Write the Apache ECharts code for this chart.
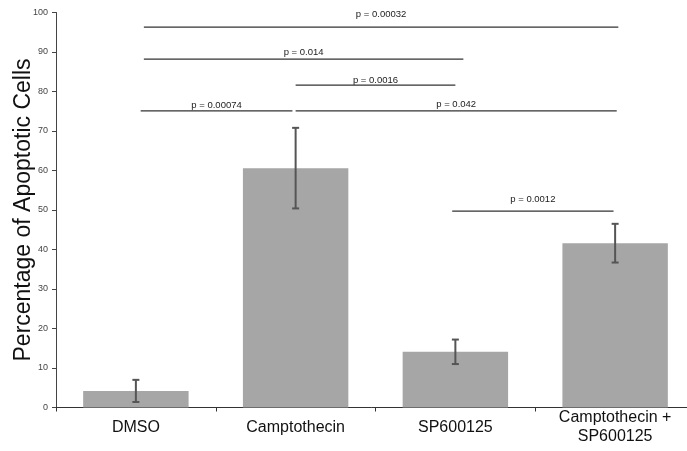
<!DOCTYPE html>
<html>
<head>
<meta charset="utf-8">
<script src="https://cdn.jsdelivr.net/npm/echarts@6/dist/echarts.min.js"></script>
<style>html,body{margin:0;padding:0;background:#fff;}#c{width:687px;height:451px;}</style>
</head>
<body>
<div id="c"></div>
<script>
const categories = ['DMSO', 'Camptothecin', 'SP600125', 'Camptothecin +\nSP600125'];
const means = [4.2, 60.6, 14.1, 41.6];
const errors = [2.8, 10.2, 3.1, 4.9];
const yMin = 0, yMax = 100, yInterval = 10;
// significance brackets (x in category-index units, y in data units)
const bracketStart = [0.05, 0.05, 1.0, 0.03, 1.0, 1.98];
const bracketEnd = [3.02, 2.05, 2.0, 0.98, 3.01, 2.99];
const bracketY = [96.3, 88.2, 81.6, 75.1, 75.1, 49.7];
const pLabels = ['p = 0.00032', 'p = 0.014', 'p = 0.0016', 'p = 0.00074', 'p = 0.042', 'p = 0.0012'];
const pLabelY = [99.4, 90.0, 82.9, 76.6, 76.8, 52.8];

const chart = echarts.init(document.getElementById('c'), null, {renderer: 'canvas'});

const errData = means.map((m, i) => [i, m - errors[i], m + errors[i]]);
const bracketData = bracketStart.map((s, i) => [s, bracketEnd[i], bracketY[i], pLabelY[i], pLabels[i]]);

const option = {
  animation: false,
  backgroundColor: '#ffffff',
  grid: {left: 56, top: 12.5, height: 395, width: 639, containLabel: false, outerBoundsMode: 'none'},
  xAxis: [{
    type: 'category',
    data: categories,
    boundaryGap: true,
    axisLine: {show: true, onZero: false, lineStyle: {color: '#333', width: 1}},
    axisTick: {show: true, length: 4, inside: false, lineStyle: {color: '#333'}},
    axisLabel: {
      color: '#111', fontSize: 16, fontFamily: 'Liberation Sans, Arial, sans-serif',
      margin: 20, verticalAlign: 'middle', lineHeight: 19, interval: 0
    },
    splitLine: {show: false}
  }, {
    type: 'value', min: -0.5, max: 3.5, show: false
  }],
  yAxis: {
    type: 'value',
    min: yMin, max: yMax, interval: yInterval,
    name: 'Percentage of Apoptotic Cells',
    nameLocation: 'middle',
    nameGap: 21,
    nameMoveOverlap: false,
    nameTextStyle: {color: '#111', fontSize: 23, fontFamily: 'Liberation Sans, Arial, sans-serif'},
    axisLine: {show: true, onZero: false, lineStyle: {color: '#444', width: 1}},
    axisTick: {show: true, length: 4, lineStyle: {color: '#444'}},
    axisLabel: {color: '#444', fontSize: 9, margin: 8, fontFamily: 'Liberation Sans, Arial, sans-serif'},
    splitLine: {show: false}
  },
  series: [{
    type: 'bar',
    data: means,
    barCategoryGap: '34%',
    itemStyle: {color: '#a6a6a6'},
    silent: true
  }, {
    type: 'custom',
    data: errData,
    z: 5,
    renderItem: function (params, api) {
      const x = api.value(0);
      const lo = api.coord([x, api.value(1)]);
      const hi = api.coord([x, api.value(2)]);
      const cap = 3.5;
      const style = {stroke: '#555', lineWidth: 2};
      return {
        type: 'group',
        children: [
          {type: 'line', shape: {x1: hi[0], y1: hi[1], x2: lo[0], y2: lo[1]}, style: style},
          {type: 'line', shape: {x1: hi[0] - cap, y1: hi[1], x2: hi[0] + cap, y2: hi[1]}, style: style},
          {type: 'line', shape: {x1: lo[0] - cap, y1: lo[1], x2: lo[0] + cap, y2: lo[1]}, style: style}
        ]
      };
    }
  }, {
    type: 'custom',
    xAxisIndex: 1,
    data: bracketData,
    z: 6,
    renderItem: function (params, api) {
      const a = api.coord([api.value(0), api.value(2)]);
      const b = api.coord([api.value(1), api.value(2)]);
      const mid = api.coord([(api.value(0) + api.value(1)) / 2, api.value(3)]);
      return {
        type: 'group',
        children: [
          {type: 'line', shape: {x1: a[0], y1: a[1], x2: b[0], y2: b[1]}, style: {stroke: '#333', lineWidth: 1.2}},
          {type: 'text', x: mid[0], y: mid[1], style: {
            text: bracketData[params.dataIndex][4], fill: '#222', fontSize: 9.5,
            fontFamily: 'Liberation Sans, Arial, sans-serif', align: 'center', verticalAlign: 'middle'
          }}
        ]
      };
    }
  }]
};
chart.setOption(option);
</script>
</body>
</html>
